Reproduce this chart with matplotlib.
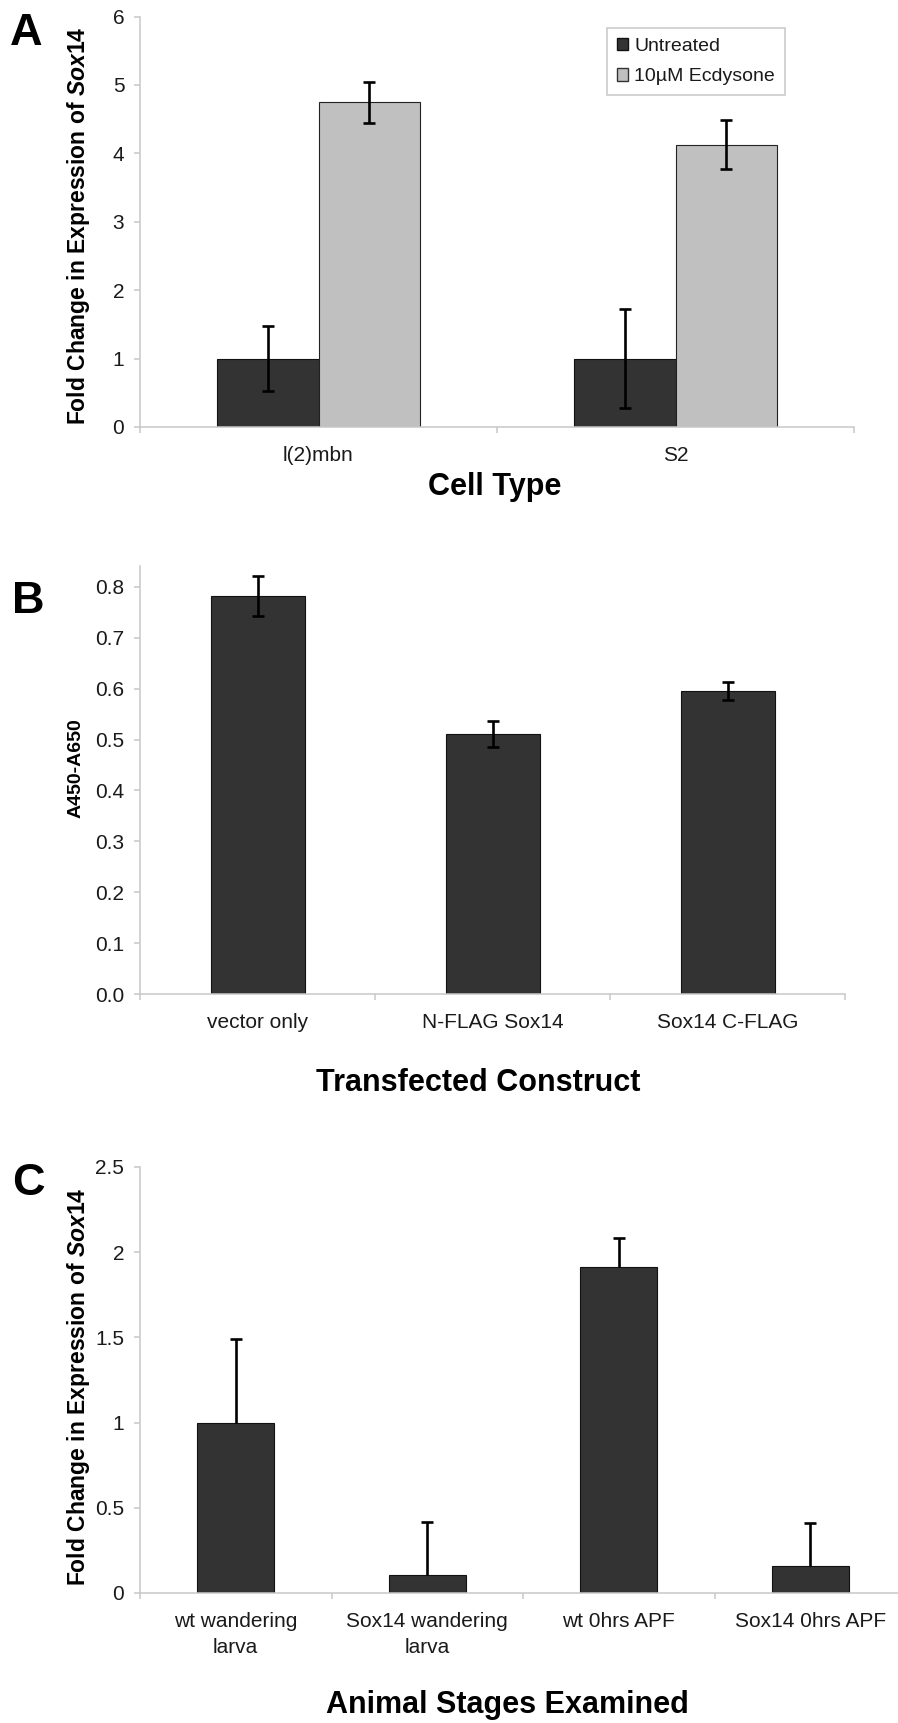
import matplotlib
matplotlib.use('Agg')
import matplotlib.pyplot as plt
import numpy as np
from matplotlib.patches import Patch

plt.rcParams['font.family'] = ['Liberation Sans', 'DejaVu Sans']
plt.rcParams['mathtext.fontset'] = 'custom'
plt.rcParams['mathtext.it'] = 'Liberation Sans:italic:bold'
plt.rcParams['mathtext.rm'] = 'Liberation Sans:bold'
plt.rcParams['mathtext.bf'] = 'Liberation Sans:bold'

# ---------------- data ----------------
a_categories = ['l(2)mbn', 'S2']
a_series = ['Untreated', '10µM Ecdysone']
a_untreated = [1.0, 1.0]
a_untreated_err = [0.47, 0.72]
a_ecdysone = [4.75, 4.13]
a_ecdysone_err = [0.30, 0.36]
a_yticks = [0, 1, 2, 3, 4, 5, 6]
a_yticklabels = ['0', '1', '2', '3', '4', '5', '6']

b_categories = ['vector only', 'N-FLAG Sox14', 'Sox14 C-FLAG']
b_values = [0.782, 0.511, 0.595]
b_err = [0.040, 0.025, 0.018]
b_yticks = [0.0, 0.1, 0.2, 0.3, 0.4, 0.5, 0.6, 0.7, 0.8]
b_yticklabels = ['0.0', '0.1', '0.2', '0.3', '0.4', '0.5', '0.6', '0.7', '0.8']

c_categories = ['wt wandering\nlarva', 'Sox14 wandering\nlarva', 'wt 0hrs APF', 'Sox14 0hrs APF']
c_values = [1.0, 0.108, 1.911, 0.161]
c_err_upper = [0.49, 0.31, 0.17, 0.25]
c_yticks = [0, 0.5, 1, 1.5, 2, 2.5]
c_yticklabels = ['0', '0.5', '1', '1.5', '2', '2.5']

# ---------------- style ----------------
W, H = 898, 1723
DARK = '#333333'
LIGHT = '#c0c0c0'
AXC = '#c8c8c8'
TXT = '#1a1a1a'
TICKSIZE = 15

fig = plt.figure(figsize=(W / 100, H / 100), dpi=100)
fig.patch.set_facecolor('white')


def rect(l, r, t, b):
    return [l / W, 1 - b / H, (r - l) / W, (b - t) / H]


def style(ax, cats, ymax, yticks, yticklabels):
    n = len(cats)
    ax.set_xlim(-0.5, n - 0.5)
    ax.set_ylim(0, ymax)
    for s in ['top', 'right']:
        ax.spines[s].set_visible(False)
    for s in ['left', 'bottom']:
        ax.spines[s].set_color(AXC)
        ax.spines[s].set_linewidth(1.1)
    ax.set_xticks(np.arange(n))
    ax.set_xticklabels(cats)
    ax.set_xticks(np.arange(n + 1) - 0.5, minor=True)
    ax.tick_params(axis='x', which='major', length=0, pad=14, labelcolor=TXT, labelsize=TICKSIZE)
    ax.tick_params(axis='x', which='minor', length=4.3, width=1.1, color=AXC, direction='out')
    ax.set_yticks(yticks)
    ax.set_yticklabels(yticklabels)
    ax.tick_params(axis='y', length=4.3, width=1.1, color=AXC, pad=7, labelcolor=TXT,
                   labelsize=TICKSIZE)
    for lbl in ax.get_xticklabels():
        lbl.set_linespacing(1.45)


ekw = dict(fmt='none', ecolor='black', elinewidth=1.9, capsize=4.5, capthick=1.9, zorder=4)

# ---------------- panel A ----------------
axA = fig.add_axes(rect(140, 854, 16.6, 427))
xa = np.arange(len(a_categories))
wa = 0.285
axA.bar(xa - wa / 2, a_untreated, wa, color=DARK, edgecolor='#111111', linewidth=0.8, zorder=2)
axA.bar(xa + wa / 2, a_ecdysone, wa, color=LIGHT, edgecolor='#222222', linewidth=0.8, zorder=2)
axA.errorbar(xa - wa / 2, a_untreated, yerr=a_untreated_err, **ekw)
axA.errorbar(xa + wa / 2, a_ecdysone, yerr=a_ecdysone_err, **ekw)
style(axA, a_categories, 6, a_yticks, a_yticklabels)

handles = [Patch(facecolor=DARK, edgecolor='#111111', linewidth=1.0),
           Patch(facecolor=LIGHT, edgecolor='#333333', linewidth=1.0)]
leg = fig.legend(handles, a_series, loc='upper left', bbox_to_anchor=(607 / W, 1 - 28 / H),
                 frameon=True, fancybox=False, edgecolor=AXC, framealpha=1, fontsize=14,
                 handlelength=0.6, handleheight=0.6, handletextpad=0.3, labelspacing=0.7,
                 borderpad=0.5, borderaxespad=0)
leg.get_frame().set_linewidth(1.1)
for t in leg.get_texts():
    t.set_color(TXT)

# ---------------- panel B ----------------
axB = fig.add_axes(rect(140, 845, 566, 994))
xb = np.arange(len(b_categories))
axB.bar(xb, b_values, 0.40, color=DARK, edgecolor='#111111', linewidth=0.8, zorder=2)
axB.errorbar(xb, b_values, yerr=b_err, **ekw)
style(axB, b_categories, 0.841, b_yticks, b_yticklabels)

# ---------------- panel C ----------------
axC = fig.add_axes(rect(140, 140 + 4 * 191.5, 1167, 1593))
xc = np.arange(len(c_categories))
axC.bar(xc, c_values, 0.40, color=DARK, edgecolor='#111111', linewidth=0.8, zorder=2)
_, caps, _ = axC.errorbar(xc, c_values, yerr=[np.zeros(len(c_values)), c_err_upper], **ekw)
if len(caps) == 2:
    caps[0].set_visible(False)
style(axC, c_categories, 2.5, c_yticks, c_yticklabels)

# ---------------- texts ----------------
def ftext(x, y, s, **kw):
    fig.text(x / W, 1 - y / H, s, **kw)

ftext(10, 45, 'A', fontsize=32.5, fontweight='bold', ha='left', va='baseline')
ftext(12, 613, 'B', fontsize=32.5, fontweight='bold', ha='left', va='baseline')
ftext(12, 1195, 'C', fontsize=32.5, fontweight='bold', ha='left', va='baseline')

ftext(495, 495.5, 'Cell Type', fontsize=22, fontweight='bold', ha='center', va='baseline')
ftext(478, 1091, 'Transfected Construct', fontsize=22, fontweight='bold', ha='center', va='baseline')
ftext(507, 1713, 'Animal Stages Examined', fontsize=22, fontweight='bold', ha='center', va='baseline')

ftext(79, 226, 'Fold Change in Expression of $\\mathit{Sox14}$', rotation=90, fontsize=16.5,
      fontweight='bold', ha='center', va='center')
ftext(76, 768, 'A450-A650', rotation=90, fontsize=14, fontweight='bold', ha='center', va='center')
ftext(79, 1387, 'Fold Change in Expression of $\\mathit{Sox14}$', rotation=90, fontsize=16.5,
      fontweight='bold', ha='center', va='center')

fig.savefig('out.png', dpi=100, facecolor='white')
